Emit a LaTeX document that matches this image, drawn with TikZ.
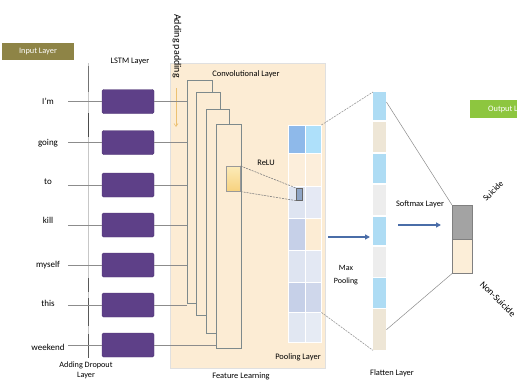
\documentclass[tikz,border=0pt]{standalone}
\usepackage{fontspec}
\setmainfont{Carlito}
\usetikzlibrary{arrows.meta}
\definecolor{lstmP}{HTML}{5E4088}
\definecolor{olive}{HTML}{8E8446}
\definecolor{peach}{HTML}{FCECD4}
\definecolor{convB}{HTML}{7E8A8C}
\definecolor{outG}{HTML}{8DC63F}
\definecolor{arrB}{HTML}{4A6DA8}
\definecolor{fBlue}{HTML}{AEDCF4}
\definecolor{fBeige}{HTML}{EEE6D6}
\definecolor{fGrey}{HTML}{EDEDED}
\definecolor{pA}{HTML}{8EB9EA}
\definecolor{pB}{HTML}{AEE0FA}
\definecolor{pC}{HTML}{DEE4F1}
\definecolor{pD}{HTML}{C6D0E8}
\definecolor{pE}{HTML}{FCEEDB}
\definecolor{reluA}{HTML}{FCEBB8}
\definecolor{reluB}{HTML}{F7D27E}
\definecolor{smallB}{HTML}{8FA5C5}
\begin{document}
\begin{tikzpicture}[x=1pt,y=-1pt,
  lab/.style={font=\fontsize{8.4}{9}\selectfont, text=black, inner sep=0},
  word/.style={font=\fontsize{9}{10}\selectfont, text=black, inner sep=0},
  lstm/.style={rectangle, rounded corners=1.5pt, fill=lstmP, draw=lstmP!85!black, minimum width=52pt, minimum height=24pt, inner sep=0},
  convr/.style={rectangle, fill=peach, draw=convB, line width=0.8pt, inner sep=0, anchor=north west},
  cell/.style={rectangle, draw=white, line width=0.4pt, inner sep=0, anchor=north west, minimum width=16.5pt},
  fseg/.style={rectangle, inner sep=0, anchor=north west, minimum width=13pt},
  wline/.style={draw=black!45, line width=0.6pt},
  thin/.style={draw=black!45, line width=0.5pt},
  dsh/.style={draw=black!50, line width=0.6pt, dash pattern=on 2pt off 1pt},
  bigarr/.style={draw=arrB, line width=1.6pt, -{Triangle[length=5pt,width=5pt]}},
  tag/.style={rectangle, inner sep=0, text=white, font=\fontsize{8.3}{9}\selectfont}
]
\useasboundingbox (0,0) rectangle (517,380);
\clip (0,0) rectangle (517,380);
\fill[white] (0,0) rectangle (517,380);

% Feature learning background
\node[rectangle, fill=peach, draw=black!12, line width=0.5pt, inner sep=0, anchor=north west,
  minimum width=155pt, minimum height=305pt] (feat) at (170,63) {};
\node[lab] (featlab) at (241,376) {Feature Learning};

% Input layer tag
\node[tag, fill=olive, minimum width=72pt, minimum height=17pt] (inlayer) at (38,51.5) {Input Layer};
\node[lab] (lstmlab) at (130,61) {LSTM Layer};

% dropout line
\draw[black!22, line width=0.7pt] (88,63) -- (88,358);
\draw[black!55, line width=0.7pt] (88,66) -- (88,92);
\draw[black!70, line width=0.8pt] (88,113) -- (88,137);
\draw[black!65, line width=0.8pt] (88,278) -- (88,292);
\draw[black!65, line width=0.8pt] (88,298) -- (88,326);
\draw[black!65, line width=0.8pt] (88,334) -- (88,358);
\node[lab, align=center, font=\fontsize{8.2}{9.5}\selectfont] (droplab) at (86,370.5) {Adding Dropout\\Layer};

% words and LSTM boxes
\foreach \i/\w/\yw/\yb in {1/I'm/101/101.5, 2/going/143/142.5, 3/to/182/185, 4/kill/220/225, 5/myself/265/265, 6/this/303/305, 7/weekend/347/345} {
  \node[word] (w\i) at (48,\yw) {\w};
  \node[lstm] (l\i) at (128,\yb) {};
  \draw[wline] (l\i.west) -- ++(-34,0);
}

% padding
\node[lab, rotate=-90, font=\fontsize{10}{11}\selectfont] (padlab) at (177,46) {Adding padding};
\coordinate (padA) at (176,88);
\coordinate (padB) at (176,127);
\draw[draw=reluB!80!brown, line width=0.6pt, -{Straight Barb[length=3pt,width=4pt]}] (padA) -- (padB);

% convolutional stack
\node[lab] (convlab) at (246,74) {Convolutional Layer};
\node[convr, minimum width=25pt, minimum height=223pt] (c1) at (187,80) {};
\node[convr, minimum width=24pt, minimum height=223pt] (c2) at (196,92) {};
\node[convr, minimum width=23pt, minimum height=224pt] (c3) at (206,109) {};
\node[convr, minimum width=25pt, minimum height=224pt] (c4) at (216,124) {};

% LSTM to conv lines
\foreach \i in {1,...,6} {
  \draw[wline] (l\i.east) -- (l\i.east -| c1.west);
}
\draw[wline] (l7.east) -- (l7.east -| c4.west);

% ReLU
\node[rectangle, inner sep=0, anchor=north west, minimum width=14pt, minimum height=25pt,
  top color=reluA, bottom color=reluB, draw=black!40, line width=0.6pt] (relu) at (226,166) {};
\node[lab] (relulab) at (266,163) {ReLU};

% pooling grid
\foreach \r/\ya/\h/\ca/\cb in {1/125/28/pA/pB, 2/153/33/pE/pE, 3/186/32/pC/pC!80!white, 4/218/32/pD/peach, 5/250/32/pC/pC!85!white, 6/282/30/pD/pD!85!white, 7/312/30/pC!90!white/pC!75!white} {
  \node[cell, fill=\ca, minimum height=\h pt] (p\r a) at (288,\ya) {};
  \node[cell, fill=\cb, minimum height=\h pt] (p\r b) at (304.5,\ya) {};
}
\node[rectangle, inner sep=0, anchor=north west, minimum width=6pt, minimum height=12pt,
  fill=smallB, draw=black!60, line width=0.6pt] (sb) at (296,188) {};
\draw[dsh] (relu.north east) -- (sb.north west);
\draw[dsh] (relu.south east) -- (sb.south west);
\node[lab] (poollab) at (298,357) {Pooling Layer};

% flatten
\foreach \i/\ya/\h/\c in {1/92/28/fBlue, 2/122/30/fBeige, 3/154/29/fBlue, 4/185/30/fGrey, 5/217/28/fBlue, 6/247/30/fGrey, 7/278/30/fBlue, 8/309/41/fBeige} {
  \node[fseg, fill=\c, minimum height=\h pt] (f\i) at (373,\ya) {};
}
\node[lab] (flatlab) at (392,373) {Flatten Layer};

\draw[dsh, draw=black!40] (p1b.north east) -- (f1.north west);
\draw[dsh, draw=black!40] (p6b.south east) -- (f8.south west);

% max pooling arrow
\coordinate (mpA) at (328,237);
\coordinate (mpB) at (370,237);
\draw[bigarr] (mpA) -- (mpB);
\node[lab, align=center, font=\fontsize{8}{13}\selectfont] (mplab) at (346,275) {Max\\Pooling};

% output
\node[rectangle, inner sep=0, anchor=north west, minimum width=20pt, minimum height=34pt,
  fill=black!36, draw=black!50, line width=0.6pt] (o1) at (452,205) {};
\node[rectangle, inner sep=0, anchor=north west, minimum width=20pt, minimum height=34pt,
  fill=peach!90!white, draw=black!50, line width=0.6pt] (o2) at (452,239) {};
\draw[thin] (f1.north east) ++(0,10) -- (o1.north west);
\draw[thin] (f8.east) -- (o2.south west);

\coordinate (smA) at (398,225);
\coordinate (smB) at (441,225);
\draw[bigarr] (smA) -- (smB);
\node[lab] (smlab) at (420,204) {Softmax Layer};

\node[lab, rotate=45, font=\fontsize{8.6}{9}\selectfont] (suic) at (493,191) {Suicide};
\node[lab, rotate=-45, font=\fontsize{9.4}{10}\selectfont] (nsuic) at (498,299) {Non-Suicide};

\node[tag, fill=outG, minimum width=80pt, minimum height=18pt, anchor=west] (outlayer) at (470,109) {Output Layer};
\end{tikzpicture}
\end{document}
